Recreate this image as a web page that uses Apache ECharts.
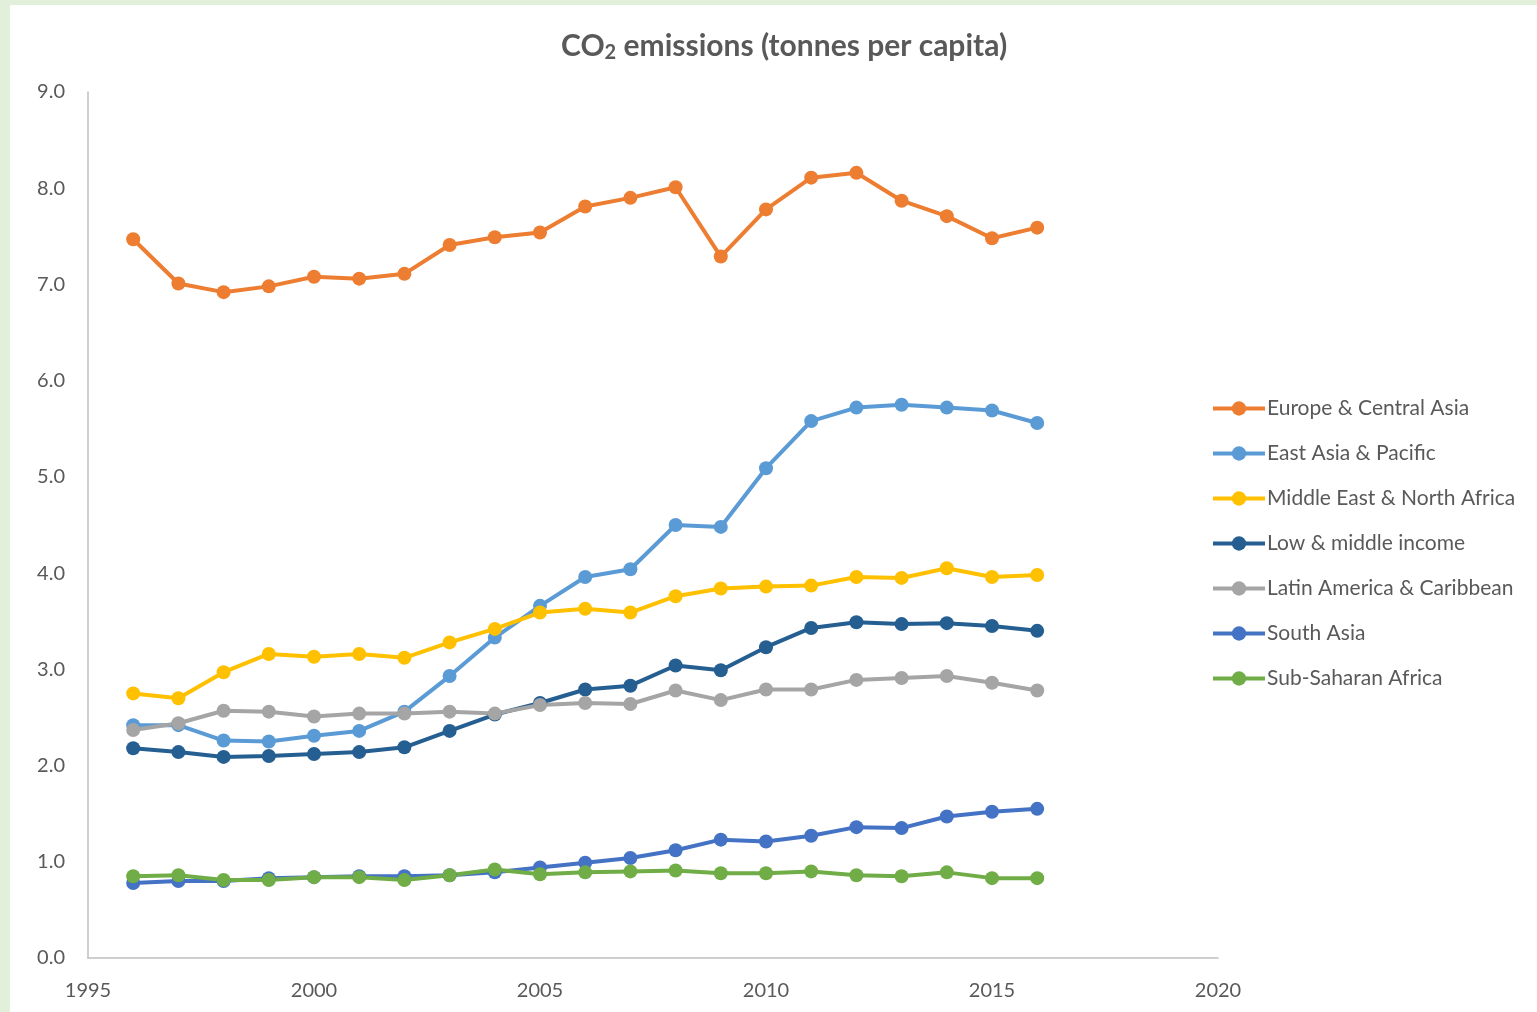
<!DOCTYPE html>
<html>
<head>
<meta charset="utf-8">
<script src="https://cdn.jsdelivr.net/npm/echarts@6/dist/echarts.min.js"></script>
<style>
  html, body { margin: 0; padding: 0; background: #ffffff; }
  #chart { width: 1537px; height: 1012px; }
</style>
</head>
<body>
<div id="chart"></div>
<script>
// CO2 emissions per capita by region, 1996-2016
const years = [1996, 1997, 1998, 1999, 2000, 2001, 2002, 2003, 2004, 2005, 2006,
               2007, 2008, 2009, 2010, 2011, 2012, 2013, 2014, 2015, 2016];

const europeCentralAsia = [7.47, 7.01, 6.92, 6.98, 7.08, 7.06, 7.11, 7.41, 7.49, 7.54, 7.81,
                           7.90, 8.01, 7.29, 7.78, 8.11, 8.16, 7.87, 7.71, 7.48, 7.59];
const eastAsiaPacific = [2.42, 2.42, 2.26, 2.25, 2.31, 2.36, 2.56, 2.93, 3.33, 3.66, 3.96,
                         4.04, 4.50, 4.48, 5.09, 5.58, 5.72, 5.75, 5.72, 5.69, 5.56];
const middleEastNorthAfrica = [2.75, 2.70, 2.97, 3.16, 3.13, 3.16, 3.12, 3.28, 3.42, 3.59, 3.63,
                               3.59, 3.76, 3.84, 3.86, 3.87, 3.96, 3.95, 4.05, 3.96, 3.98];
const lowMiddleIncome = [2.18, 2.14, 2.09, 2.10, 2.12, 2.14, 2.19, 2.36, 2.53, 2.65, 2.79,
                         2.83, 3.04, 2.99, 3.23, 3.43, 3.49, 3.47, 3.48, 3.45, 3.40];
const latinAmericaCaribbean = [2.37, 2.44, 2.57, 2.56, 2.51, 2.54, 2.54, 2.56, 2.54, 2.63, 2.65,
                               2.64, 2.78, 2.68, 2.79, 2.79, 2.89, 2.91, 2.93, 2.86, 2.78];
const southAsia = [0.78, 0.80, 0.80, 0.83, 0.84, 0.85, 0.85, 0.86, 0.89, 0.94, 0.99,
                   1.04, 1.12, 1.23, 1.21, 1.27, 1.36, 1.35, 1.47, 1.52, 1.55];
const subSaharanAfrica = [0.85, 0.86, 0.81, 0.81, 0.84, 0.84, 0.81, 0.86, 0.92, 0.87, 0.89,
                          0.90, 0.91, 0.88, 0.88, 0.90, 0.86, 0.85, 0.89, 0.83, 0.83];

const seriesNames = ['Europe & Central Asia', 'East Asia & Pacific', 'Middle East & North Africa',
                     'Low & middle income', 'Latin America & Caribbean', 'South Asia', 'Sub-Saharan Africa'];
const seriesValues = [europeCentralAsia, eastAsiaPacific, middleEastNorthAfrica,
                      lowMiddleIncome, latinAmericaCaribbean, southAsia, subSaharanAfrica];
const seriesColors = ['#ED7D31', '#5B9BD5', '#FFC000', '#255E91', '#A5A5A5', '#4472C4', '#70AD47'];

const FONT = 'Lato, "Open Sans", sans-serif';
const TEXT = '#595959';

const chart = echarts.init(document.getElementById('chart'), null, { renderer: 'canvas' });

const series = seriesNames.map((name, i) => ({
  name: name,
  type: 'line',
  data: years.map((y, j) => [y, seriesValues[i][j]]),
  symbol: 'circle',
  symbolSize: 14,
  lineStyle: { width: 4, color: seriesColors[i] },
  itemStyle: { color: seriesColors[i] },
  emphasis: { disabled: true },
  animation: false
}));

chart.setOption({
  backgroundColor: '#ffffff',
  animation: false,
  title: {
    text: 'CO{sub|2} emissions (tonnes per capita)',
    left: 556,
    top: 24,
    textStyle: {
      fontFamily: FONT,
      fontSize: 30,
      fontWeight: 'bold',
      color: TEXT,
      rich: {
        sub: { fontFamily: FONT, fontSize: 20, fontWeight: 'bold', color: TEXT, padding: [14, 0, 0, 0] }
      }
    }
  },
  graphic: [
    { type: 'rect', left: 0, top: 0, shape: { width: 1537, height: 5 }, style: { fill: '#E2EFDA' }, silent: true },
    { type: 'rect', left: 0, top: 0, shape: { width: 10, height: 1012 }, style: { fill: '#E2EFDA' }, silent: true }
  ],
  grid: { left: 88, right: 319, top: 92, bottom: 54, containLabel: false },
  legend: {
    orient: 'vertical',
    left: 1206,
    top: 393,
    itemWidth: 52,
    itemHeight: 18,
    itemGap: 24,
    lineStyle: { width: 4 },
    textStyle: { fontFamily: FONT, fontSize: 21, color: TEXT, padding: [0, 0, 0, -3] },
    data: seriesNames
  },
  xAxis: {
    type: 'value',
    min: 1995,
    max: 2020,
    interval: 5,
    axisLine: { show: true, lineStyle: { color: '#BFBFBF', width: 1.5 } },
    axisTick: { show: false },
    splitLine: { show: false },
    axisLabel: {
      fontFamily: FONT, fontSize: 20, color: TEXT, margin: 23,
      formatter: v => String(v)
    }
  },
  yAxis: {
    type: 'value',
    min: 0,
    max: 9,
    interval: 1,
    axisLine: { show: true, lineStyle: { color: '#BFBFBF', width: 1.5 } },
    axisTick: { show: false },
    splitLine: { show: false },
    axisLabel: {
      fontFamily: FONT, fontSize: 20, color: TEXT, margin: 23,
      formatter: v => v.toFixed(1)
    }
  },
  series: series
});
</script>
</body>
</html>
